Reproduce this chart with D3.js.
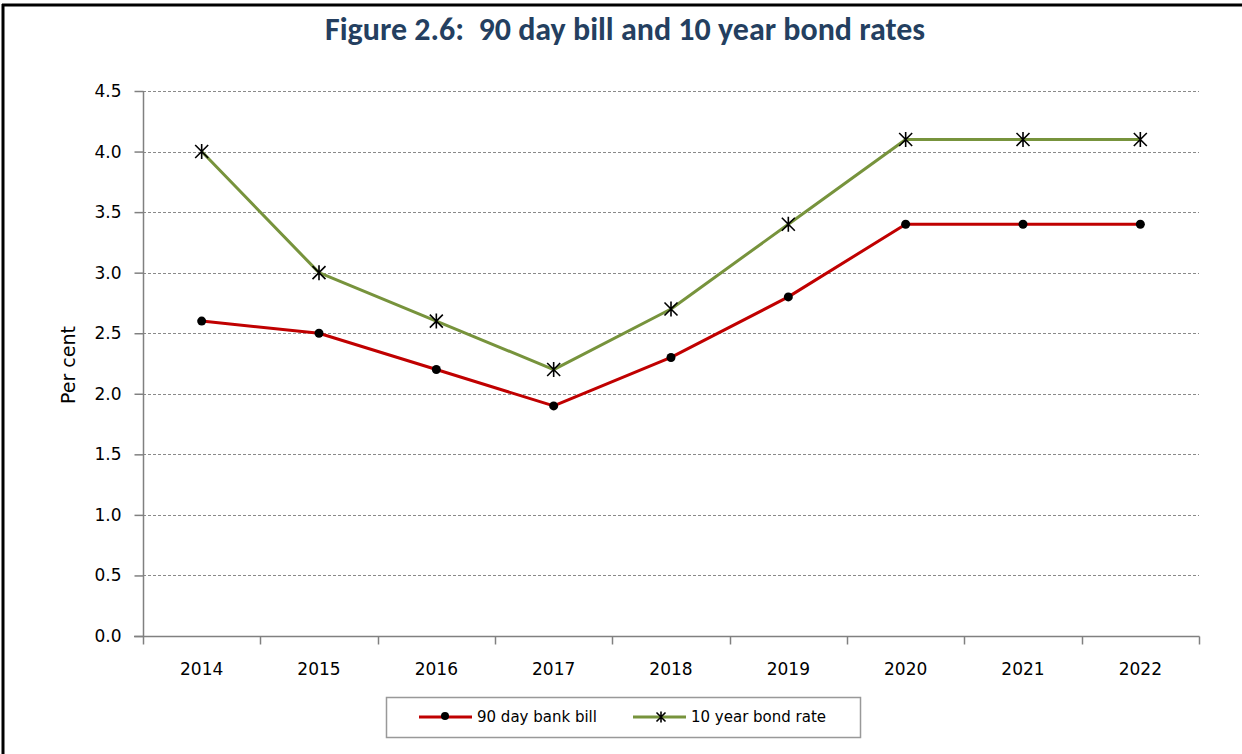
<!DOCTYPE html>
<html>
<head>
<meta charset="utf-8">
<script src="https://cdn.jsdelivr.net/npm/d3@7"></script>
<style>
  html, body { margin: 0; padding: 0; background: #fff; }
  svg { display: block; }
</style>
</head>
<body>
<svg id="chart" width="1242" height="754"></svg>
<script>
const years = ["2014", "2015", "2016", "2017", "2018", "2019", "2020", "2021", "2022"];
const billRate = [2.6, 2.5, 2.2, 1.9, 2.3, 2.8, 3.4, 3.4, 3.4];
const bondRate = [4.0, 3.0, 2.6, 2.2, 2.7, 3.4, 4.1, 4.1, 4.1];
const yTicks = [0, 0.5, 1.0, 1.5, 2.0, 2.5, 3.0, 3.5, 4.0, 4.5];
const seriesNames = ["90 day bank bill", "10 year bond rate"];

const W = 1242, H = 754;
const svg = d3.select("#chart");
const tickFont = "Tahoma, 'DejaVu Sans', sans-serif";

// frame: top and left edges
svg.append("line").attr("x1", 2).attr("x2", W).attr("y1", 5).attr("y2", 5)
  .attr("stroke", "#000").attr("stroke-width", 3);
svg.append("line").attr("x1", 3).attr("x2", 3).attr("y1", 4).attr("y2", H)
  .attr("stroke", "#000").attr("stroke-width", 3);

svg.append("text").attr("x", 625).attr("y", 40).attr("text-anchor", "middle")
  .attr("font-family", "Carlito, 'Open Sans', 'Liberation Sans', sans-serif")
  .attr("font-weight", "bold").attr("font-size", 32).attr("fill", "#243F60")
  .style("white-space", "pre")
  .text("Figure 2.6:  90 day bill and 10 year bond rates");

const plot = { left: 143, right: 1199, top: 91, bottom: 636 };
const x = d3.scaleBand().domain(years).range([plot.left, plot.right]);
const y = d3.scaleLinear().domain([0, 4.5]).range([plot.bottom, plot.top]);

// horizontal dashed gridlines
svg.append("g").selectAll("line").data(yTicks.filter(d => d > 0)).join("line")
  .attr("x1", plot.left).attr("x2", plot.right)
  .attr("y1", d => Math.round(y(d)) + 0.5).attr("y2", d => Math.round(y(d)) + 0.5)
  .attr("stroke", "#8a8a8a").attr("stroke-width", 1).attr("stroke-dasharray", "3,2");

// y axis
const yAxis = svg.append("g").attr("transform", `translate(${plot.left + 0.5},0)`)
  .call(d3.axisLeft(y).tickValues(yTicks).tickFormat(d3.format(".1f")).tickSize(9).tickPadding(13));
yAxis.select(".domain").attr("stroke", "#808080").attr("stroke-width", 1.5).attr("d", `M0,${plot.top}V${plot.bottom}`);
yAxis.selectAll(".tick line").attr("stroke", "#808080").attr("stroke-width", 1.5);
yAxis.selectAll("text").attr("font-family", tickFont).attr("font-size", 17).attr("fill", "#000");

// x axis with tick marks on band boundaries
const xAxisG = svg.append("g").attr("transform", `translate(0,${plot.bottom + 0.5})`);
xAxisG.append("line").attr("x1", plot.left - 9).attr("x2", plot.right + 0.5)
  .attr("stroke", "#808080").attr("stroke-width", 1.5);
const bounds = years.map(d => x(d)).concat([plot.right]);
xAxisG.selectAll("line.tk").data(bounds).join("line").attr("class", "tk")
  .attr("x1", d => Math.round(d) + 0.5).attr("x2", d => Math.round(d) + 0.5)
  .attr("y1", 0).attr("y2", 8).attr("stroke", "#808080").attr("stroke-width", 1.5);
xAxisG.selectAll("text").data(years).join("text")
  .attr("x", d => x(d) + x.bandwidth() / 2).attr("y", 38)
  .attr("text-anchor", "middle").attr("font-family", tickFont).attr("font-size", 17)
  .attr("fill", "#000").text(d => d);

// y axis title
svg.append("text").attr("transform", "translate(75,365) rotate(-90)")
  .attr("text-anchor", "middle").attr("font-family", tickFont).attr("font-size", 19)
  .text("Per cent");

const cx = d => x(d) + x.bandwidth() / 2;
const line = d3.line().x((d, i) => cx(years[i])).y(d => y(d));

const billColor = "#C00000", bondColor = "#77933C";

function starMarker(g, px, py, r) {
  const p = d3.path();
  p.moveTo(px - r, py - r); p.lineTo(px + r, py + r);
  p.moveTo(px + r, py - r); p.lineTo(px - r, py + r);
  p.moveTo(px, py - r - 1); p.lineTo(px, py + r + 1);
  g.append("path").attr("d", p.toString()).attr("stroke", "#000").attr("stroke-width", 1.6).attr("fill", "none");
}

// 10 year bond
svg.append("path").datum(bondRate).attr("d", line).attr("fill", "none")
  .attr("stroke", bondColor).attr("stroke-width", 3).attr("stroke-linejoin", "round");
const bondMarks = svg.append("g");
bondRate.forEach((v, i) => starMarker(bondMarks, cx(years[i]), y(v), 6.5));

// 90 day bill
svg.append("path").datum(billRate).attr("d", line).attr("fill", "none")
  .attr("stroke", billColor).attr("stroke-width", 3).attr("stroke-linejoin", "round");
svg.append("g").selectAll("circle").data(billRate).join("circle")
  .attr("cx", (d, i) => cx(years[i])).attr("cy", d => y(d)).attr("r", 4.5).attr("fill", "#000");

// legend
const lg = svg.append("g");
lg.append("rect").attr("x", 386.5).attr("y", 697.5).attr("width", 474).attr("height", 40)
  .attr("fill", "#fff").attr("stroke", "#999").attr("stroke-width", 1.5);
lg.append("line").attr("x1", 419).attr("x2", 472).attr("y1", 717).attr("y2", 717)
  .attr("stroke", billColor).attr("stroke-width", 3);
lg.append("circle").attr("cx", 445).attr("cy", 716).attr("r", 4).attr("fill", "#000");
lg.append("text").attr("x", 477).attr("y", 722).attr("font-family", tickFont).attr("font-size", 15)
  .text(seriesNames[0]);
lg.append("line").attr("x1", 633).attr("x2", 686).attr("y1", 717).attr("y2", 717)
  .attr("stroke", bondColor).attr("stroke-width", 3);
starMarker(lg, 661, 717, 4.5);
lg.append("text").attr("x", 691).attr("y", 722).attr("font-family", tickFont).attr("font-size", 15)
  .text(seriesNames[1]);
</script>
</body>
</html>
